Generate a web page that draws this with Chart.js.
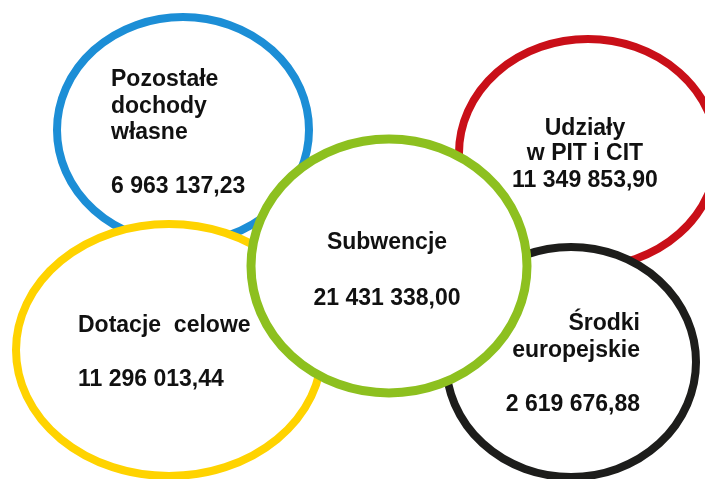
<!DOCTYPE html>
<html lang="pl">
<head>
    <meta charset="UTF-8">
    <title>Struktura dochodów</title>
    <style>
        html, body { margin: 0; padding: 0; background: #ffffff; }
        #wykres { display: block; }
    </style>
</head>
<body>
    <canvas id="wykres" width="705" height="479"></canvas>

    <script src="https://cdn.jsdelivr.net/npm/chart.js"></script>
    <script>
        // Dane: kategorie dochodów i kwoty (zł)
        const kategorie = [
            ['Pozostałe', 'dochody', 'własne'],
            ['Udziały', 'w PIT i CIT'],
            ['Dotacje  celowe'],
            ['Środki', 'europejskie'],
            ['Subwencje']
        ];
        const kwoty = [6963137.23, 11349853.90, 11296013.44, 2619676.88, 21431338.00];

        // Układ: środki i promienie elips (w jednostkach osi), kolejność rysowania
        const srodekX = [183, 588, 169, 571, 389];
        const srodekY = [130, 153, 350, 362, 266];
        const promienX = [126, 129, 153, 125, 138];
        const promienY = [113, 114, 126, 115, 127];
        const kolory = ['#1c8ed6', '#c90f18', '#ffd300', '#1d1d1b', '#8dc01f'];
        const grubosci = [8, 8, 8, 8, 9];

        // Położenie tekstu w każdej elipsie
        const tekstX = [111, 585, 78, 640, 387];
        const wyrownanie = ['left', 'center', 'left', 'right', 'center'];
        const etykietaY = [86, 135, 332, 330, 249];
        const odstepWierszy = [26.5, 25, 0, 27, 0];
        const kwotaY = [193, 187, 386, 411, 305];

        // Formatowanie kwoty: 6 963 137,23
        function formatKwota(v) {
            const czesci = v.toFixed(2).split('.');
            return czesci[0].replace(/\B(?=(\d{3})+(?!\d))/g, ' ') + ',' + czesci[1];
        }

        // Plugin rysujący elipsy i opisy w punktach wyznaczonych przez skale
        const elipsyPlugin = {
            id: 'elipsy',
            afterDatasetsDraw(chart) {
                const ctx = chart.ctx;
                const sx = chart.scales.x;
                const sy = chart.scales.y;
                const punkty = chart.getDatasetMeta(0).data;

                punkty.forEach((p, i) => {
                    const rx = Math.abs(sx.getPixelForValue(srodekX[i] + promienX[i]) - p.x);
                    const ry = Math.abs(sy.getPixelForValue(srodekY[i] + promienY[i]) - p.y);
                    ctx.save();
                    ctx.beginPath();
                    ctx.ellipse(p.x, p.y, rx, ry, 0, 0, Math.PI * 2);
                    ctx.fillStyle = '#ffffff';
                    ctx.fill();
                    ctx.lineWidth = grubosci[i];
                    ctx.strokeStyle = kolory[i];
                    ctx.stroke();
                    ctx.restore();
                });

                ctx.save();
                ctx.fillStyle = '#111111';
                ctx.font = 'bold 23px "Liberation Sans", Arial, sans-serif';
                ctx.textBaseline = 'alphabetic';
                punkty.forEach((p, i) => {
                    const x = sx.getPixelForValue(tekstX[i]);
                    ctx.textAlign = wyrownanie[i];
                    kategorie[i].forEach((wiersz, j) => {
                        ctx.fillText(wiersz, x, sy.getPixelForValue(etykietaY[i] + j * odstepWierszy[i]));
                    });
                    ctx.fillText(formatKwota(kwoty[i]), x, sy.getPixelForValue(kwotaY[i]));
                });
                ctx.restore();
            }
        };

        const ctx = document.getElementById('wykres').getContext('2d');
        const wykres = new Chart(ctx, {
            type: 'scatter',
            data: {
                labels: kategorie.map(k => k.join(' ')),
                datasets: [{
                    label: 'Dochody',
                    data: srodekX.map((x, i) => ({ x: x, y: srodekY[i] })),
                    pointRadius: 0,
                    pointHoverRadius: 0
                }]
            },
            options: {
                responsive: false,
                devicePixelRatio: 1,
                animation: false,
                layout: { padding: 0 },
                plugins: {
                    legend: { display: false },
                    tooltip: { enabled: false }
                },
                scales: {
                    x: { type: 'linear', min: 0, max: 705, display: false },
                    y: { type: 'linear', min: 0, max: 479, reverse: true, display: false }
                }
            },
            plugins: [elipsyPlugin]
        });
    </script>
</body>
</html>
